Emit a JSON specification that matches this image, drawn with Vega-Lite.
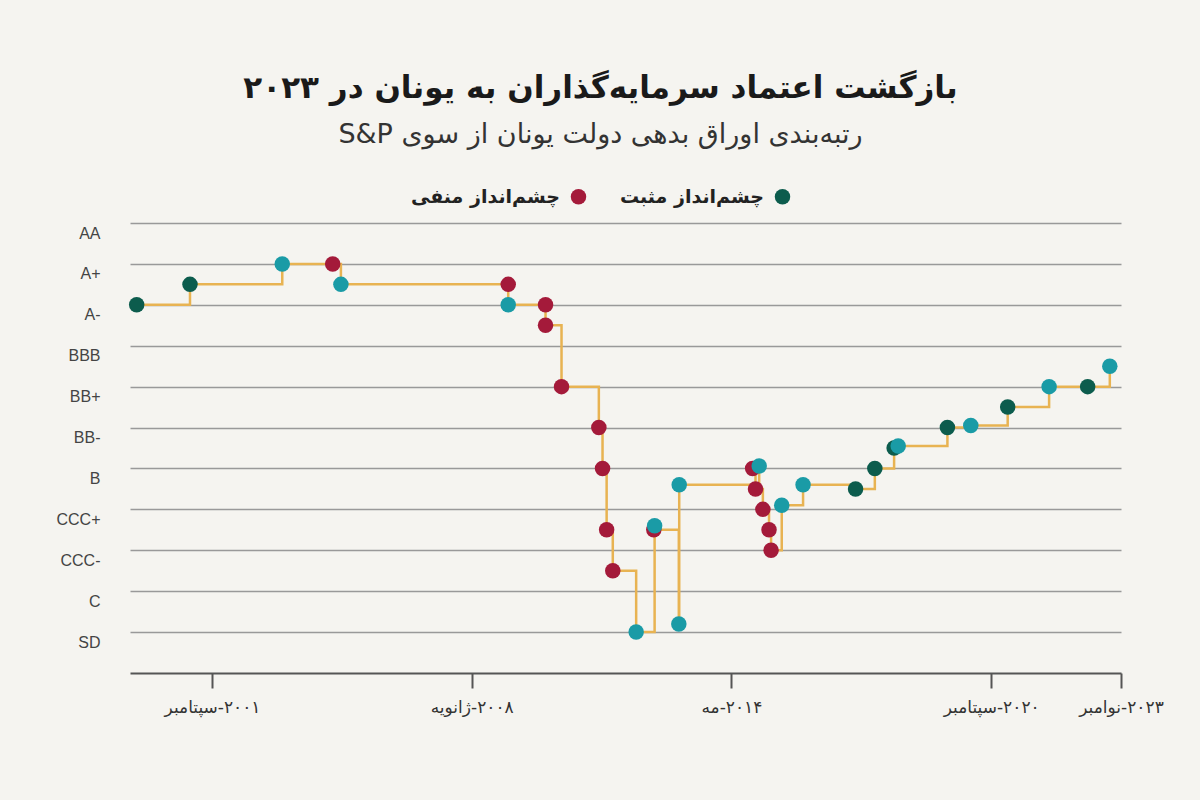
{
  "$schema": "https://vega.github.io/schema/vega-lite/v6.json",
  "width": 991,
  "height": 450,
  "autosize": {"type": "none"},
  "padding": {"left": 130, "top": 223, "right": 79, "bottom": 127},
  "background": "#f5f4f0",
  "title": {
    "text": "\u202bبازگشت اعتماد سرمایه\u200cگذاران به یونان در ۲۰۲۳\u202c",
    "subtitle": "\u202bرتبه\u200cبندی اوراق بدهی دولت یونان از سوی S&P\u202c",
    "anchor": "middle",
    "dx": -25,
    "font": "DejaVu Sans",
    "fontSize": 31,
    "fontWeight": "bold",
    "color": "#1a1a1a",
    "subtitleFont": "DejaVu Sans",
    "subtitleFontSize": 27,
    "subtitleFontWeight": "normal",
    "subtitleColor": "#333333",
    "subtitlePadding": 17,
    "offset": 38
  },
  "data": {
    "values": [
      {"i": 1, "t": 1999.83, "r": 8.0, "o": "مثبت"},
      {"i": 2, "t": 2001.13, "r": 8.5, "o": "مثبت"},
      {"i": 3, "t": 2003.38, "r": 9.0, "o": "پایدار"},
      {"i": 4, "t": 2004.61, "r": 9.0, "o": "منفی"},
      {"i": 5, "t": 2004.81, "r": 8.5, "o": "پایدار"},
      {"i": 6, "t": 2008.89, "r": 8.5, "o": "منفی"},
      {"i": 7, "t": 2008.89, "r": 8.0, "o": "پایدار"},
      {"i": 8, "t": 2009.80, "r": 8.0, "o": "منفی"},
      {"i": 9, "t": 2009.80, "r": 7.5, "o": "منفی"},
      {"i": 10, "t": 2010.19, "r": 6.0, "o": "منفی"},
      {"i": 11, "t": 2011.10, "r": 5.0, "o": "منفی"},
      {"i": 12, "t": 2011.19, "r": 4.0, "o": "منفی"},
      {"i": 13, "t": 2011.29, "r": 2.5, "o": "منفی"},
      {"i": 14, "t": 2011.44, "r": 1.5, "o": "منفی"},
      {"i": 15, "t": 2012.01, "r": 0.0, "o": "پایدار"},
      {"i": 17, "t": 2012.44, "r": 2.5, "o": "منفی"},
      {"i": 16, "t": 2012.46, "r": 2.6, "o": "پایدار"},
      {"i": 18, "t": 2013.05, "r": 0.2, "o": "پایدار"},
      {"i": 19, "t": 2013.06, "r": 3.6, "o": "پایدار"},
      {"i": 21, "t": 2014.85, "r": 4.0, "o": "منفی"},
      {"i": 20, "t": 2015.01, "r": 4.06, "o": "پایدار"},
      {"i": 22, "t": 2014.92, "r": 3.5, "o": "منفی"},
      {"i": 23, "t": 2015.10, "r": 3.0, "o": "منفی"},
      {"i": 24, "t": 2015.25, "r": 2.5, "o": "منفی"},
      {"i": 25, "t": 2015.30, "r": 2.0, "o": "منفی"},
      {"i": 26, "t": 2015.56, "r": 3.1, "o": "پایدار"},
      {"i": 27, "t": 2016.08, "r": 3.6, "o": "پایدار"},
      {"i": 28, "t": 2017.36, "r": 3.5, "o": "مثبت"},
      {"i": 29, "t": 2017.83, "r": 4.0, "o": "مثبت"},
      {"i": 30, "t": 2018.30, "r": 4.5, "o": "مثبت"},
      {"i": 31, "t": 2018.40, "r": 4.55, "o": "پایدار"},
      {"i": 32, "t": 2019.60, "r": 5.0, "o": "مثبت"},
      {"i": 33, "t": 2020.17, "r": 5.05, "o": "پایدار"},
      {"i": 34, "t": 2021.07, "r": 5.5, "o": "مثبت"},
      {"i": 35, "t": 2022.08, "r": 6.0, "o": "پایدار"},
      {"i": 36, "t": 2023.02, "r": 6.0, "o": "مثبت"},
      {"i": 37, "t": 2023.56, "r": 6.5, "o": "پایدار"}
    ]
  },
  "encoding": {
    "x": {
      "field": "t",
      "type": "quantitative",
      "scale": {"domain": [1999.667, 2023.833], "nice": false, "zero": false},
      "axis": {
        "title": null,
        "grid": false,
        "values": [2001.667, 2008.0, 2014.333, 2020.667, 2023.833],
        "labelExpr": "datum.value < 2005 ? '\u202b۲۰۰۱-سپتامبر\u202c' : datum.value < 2011 ? '\u202b۲۰۰۸-ژانویه\u202c' : datum.value < 2017 ? '\u202b۲۰۱۴-مه\u202c' : datum.value < 2022 ? '\u202b۲۰۲۰-سپتامبر\u202c' : '\u202b۲۰۲۳-نوامبر\u202c'",
        "labelFlush": false,
        "labelOverlap": false,
        "labelFont": "DejaVu Sans",
        "labelFontSize": 17,
        "labelColor": "#333333",
        "labelPadding": 11,
        "domainColor": "#555555",
        "domainWidth": 2,
        "tickColor": "#555555",
        "tickWidth": 2,
        "tickSize": 15
      }
    },
    "y": {
      "field": "r",
      "type": "quantitative",
      "scale": {"domain": [-1, 10], "nice": false, "zero": false},
      "axis": {
        "title": null,
        "values": [0, 1, 2, 3, 4, 5, 6, 7, 8, 9, 10],
        "labelExpr": "['SD','C','CCC-','CCC+','B','BB-','BB+','BBB','A-','A+','AA'][datum.value]",
        "domain": false,
        "ticks": false,
        "grid": true,
        "gridColor": "#999999",
        "gridWidth": 1.6,
        "labelFont": "Liberation Sans",
        "labelFontSize": 16,
        "labelColor": "#444444",
        "labelPadding": 30,
        "labelOffset": 10
      }
    }
  },
  "layer": [
    {
      "mark": {"type": "line", "interpolate": "step-after", "color": "#e8b352", "strokeWidth": 2.5},
      "encoding": {"order": {"field": "i", "type": "quantitative"}}
    },
    {
      "mark": {"type": "point", "filled": true, "size": 240, "opacity": 1, "shape": "circle"},
      "encoding": {
        "color": {
          "field": "o",
          "type": "nominal",
          "scale": {"domain": ["منفی", "مثبت", "پایدار"], "range": ["#a41a3a", "#0c5c4d", "#1a9ba6"]},
          "legend": {
            "title": null,
            "values": ["منفی", "مثبت"],
            "labelExpr": "'چشم\u200cانداز ' + datum.label",
            "orient": "none",
            "direction": "horizontal",
            "legendX": 439,
            "legendY": -36,
            "padding": 0,
            "symbolType": "circle",
            "symbolSize": 240,
            "symbolOpacity": 1,
            "symbolStrokeWidth": 0,
            "labelAlign": "right",
            "labelOffset": -28,
            "labelFont": "DejaVu Sans",
            "labelFontSize": 19,
            "labelFontWeight": "bold",
            "labelColor": "#222222",
            "columnPadding": 32,
            "labelLimit": 300
          }
        }
      }
    }
  ],
  "config": {"view": {"stroke": null}}
}
